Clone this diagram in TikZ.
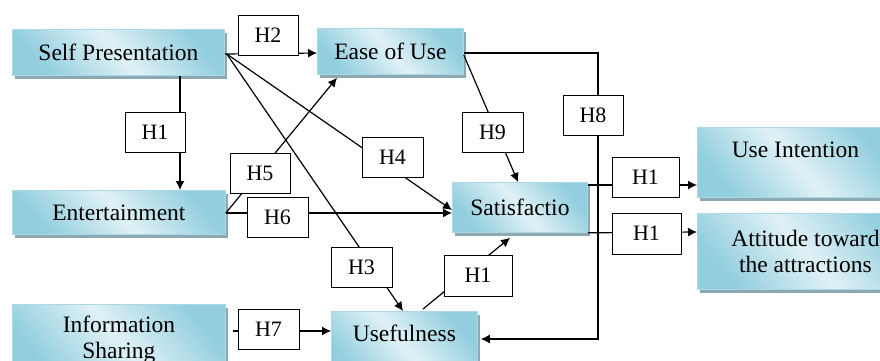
\documentclass[tikz,border=0pt]{standalone}
\usepackage{fontspec}
\setmainfont{Liberation Serif}
\usetikzlibrary{arrows.meta,calc,shadows}
\definecolor{boxdark}{RGB}{146,206,222}
\definecolor{boxlight}{RGB}{224,241,246}
\definecolor{boxline}{RGB}{172,216,228}
\definecolor{boxshadow}{RGB}{140,168,178}
\begin{document}
\begin{tikzpicture}[x=1pt,y=-1pt,
  txt/.style={font=\fontsize{22pt}{26pt}\selectfont},
  bigtxt/.style={font=\fontsize{23.5pt}{26pt}\selectfont},
  bigbox/.style={bigtxt, draw=boxline, line width=0.8pt, inner sep=0pt, anchor=north west, align=center,
    top color=boxdark, bottom color=boxdark, middle color=boxlight, shading angle=-50,
    drop shadow={shadow xshift=3pt, shadow yshift=-4pt, fill=boxshadow, opacity=1}},
  hbox/.style={txt, draw=black, line width=1pt, fill=white, minimum width=60pt, minimum height=40pt, inner sep=0pt},
  conn/.style={draw=black, line width=1.2pt},
  arr/.style={conn, -{Latex[length=9pt,width=9pt]}}]
\useasboundingbox (0,0) rectangle (880,360);
\begin{scope}
\clip (0,0) rectangle (880,360);
% main boxes
\node[bigbox, minimum width=212pt, minimum height=46pt] (sp) at (12,29) {Self Presentation};
\node[bigbox, minimum width=146pt, minimum height=46pt] (ease) at (317,28) {Ease of Use};
\node[bigbox, minimum width=213pt, minimum height=44pt] (ent) at (12,190) {Entertainment};
\node[bigbox, minimum width=213pt, minimum height=70pt] (info) at (12,304) {Information\\Sharing};
\node[bigbox, minimum width=146pt, minimum height=70pt] (use) at (331,311) {Usefulness\\\phantom{X}};
\node[bigbox, minimum width=135pt, minimum height=50pt] (sat) at (452,182) {Satisfactio};
\node[bigbox, minimum width=196pt, minimum height=70pt] (ui) at (697,127) {Use Intention\\\phantom{X}};
\node[bigbox, minimum width=216pt, minimum height=76pt] (att) at (697,213) {Attitude toward\\the attractions};
% helper
\coordinate (h8corner) at (598,200);
% connectors
\draw[arr] ($(sp.north east)+(0,25)$) -- ($(ease.north west)+(0,25)$);
\draw[arr] ($(sp.south west)+(168,0)$) -- ($(ent.north west)+(168,0)$);
\draw[arr] ($(ent.north east)+(0,23)$) -- ($(ease.south west)+(20,3)$);
\draw[arr] ($(ent.north east)+(0,23)$) -- ($(sat.north west)+(0,31)$);
\draw[arr] ($(sp.north east)+(2,25)$) -- ($(sat.north west)+(0,28)$);
\draw[arr] ($(sp.north east)+(2,25)$) -- ($(use.north west)+(72,0)$);
\draw[arr] ($(ease.north east)+(0,27)$) -- ($(sat.north west)+(66,0)$);
\draw[arr] ($(ease.north east)+(0,25)$) -| (h8corner) |- ($(use.north east)+(3,28)$);
\draw[arr] ($(use.north west)+(92,-2)$) -- ($(sat.south west)+(58,5)$);
\draw[arr] ($(sat.north east)+(0,3)$) -- ($(ui.north west)+(0,58)$);
\draw[arr] (sat.south east) -- ($(att.north west)+(0,19)$);
\draw[arr] ($(info.north east)+(7,27)$) -- ($(use.north west)+(0,20)$);
% hypothesis boxes
\node[hbox] (h2) at (268,35) {H2};
\node[hbox] (h1a) at (155,132) {H1};
\node[hbox] (h5) at (260,173) {H5};
\node[hbox, minimum width=61pt] (h6) at (277.5,217.5) {H6};
\node[hbox, minimum width=61pt] (h4) at (392.5,157) {H4};
\node[hbox, minimum width=61pt] (h3) at (361.5,267) {H3};
\node[hbox, minimum width=61pt] (h9) at (492.5,132) {H9};
\node[hbox] (h8) at (593,115) {H8};
\node[hbox, minimum width=68pt, minimum height=41pt] (h1b) at (478,275.5) {H1};
\node[hbox, minimum width=67pt] (h1c) at (645.5,177) {H1};
\node[hbox, minimum width=69pt, minimum height=41pt] (h1d) at (646.5,233.5) {H1};
\node[hbox, minimum width=61pt] (h7) at (268.5,329) {H7};
\end{scope}
\end{tikzpicture}
\end{document}
